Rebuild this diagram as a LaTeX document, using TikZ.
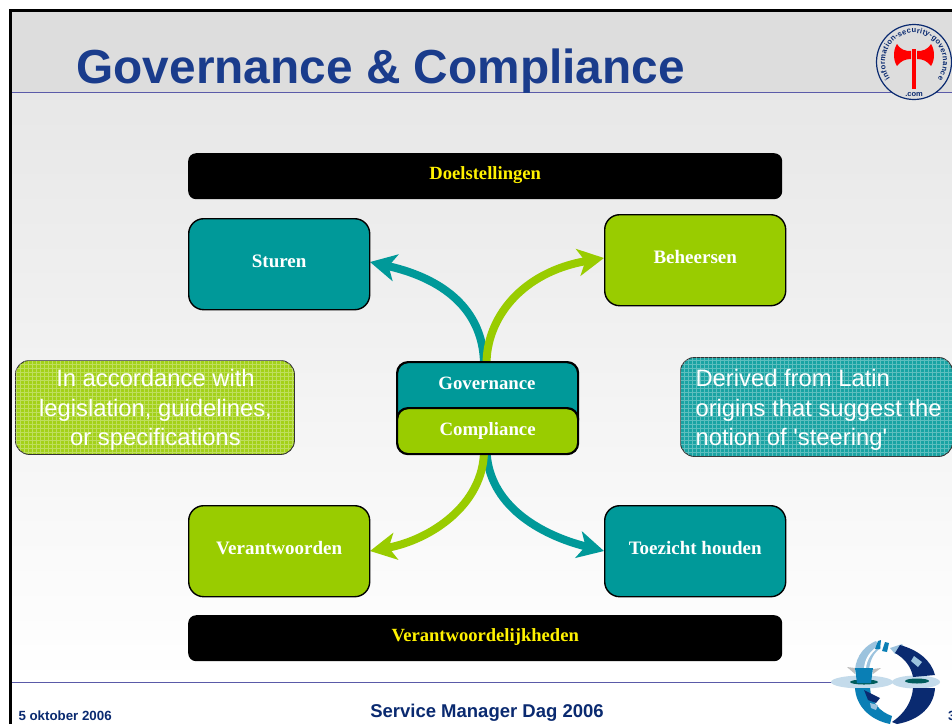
\documentclass[tikz,border=0pt]{standalone}
\usepackage{fontspec}
\setmainfont{Liberation Serif}
\newfontfamily\arialfont{Liberation Sans}
\usetikzlibrary{arrows.meta,decorations.text}
\definecolor{tealbox}{HTML}{009999}
\definecolor{limebox}{HTML}{99CC00}
\definecolor{headgrey}{HTML}{DDDDDD}
\definecolor{rulepurple}{HTML}{5A5AA8}
\definecolor{titleblue}{HTML}{1A3C8C}
\definecolor{logonavy}{HTML}{0A2A70}
\definecolor{logoblue}{HTML}{0A7FB5}
\definecolor{logolight}{HTML}{9CC3DE}
\tikzset{
  roundbox/.style={draw=black,line width=1.4pt,rounded corners=15pt,minimum width=181pt,minimum height=91pt,
    text=white,font=\fontsize{19}{20}\selectfont\bfseries,text height=14pt,text depth=7pt,anchor=north west},
  blackbar/.style={fill=black,rounded corners=8pt,minimum width=594pt,minimum height=46pt,
    text=yellow,font=\fontsize{18.6}{20}\selectfont\bfseries,text height=14pt,text depth=7pt,anchor=north west},
  centerbox/.style={draw=black,line width=2.2pt,rounded corners=11pt,minimum width=181pt,
    text=white,font=\fontsize{18.8}{20}\selectfont\bfseries,anchor=north west},
  notebox/.style={draw=black!80,line width=0.9pt,rounded corners=14pt,anchor=north west,inner sep=0pt},
  notetext/.style={text=white,font=\arialfont\fontsize{23.8}{29.5}\selectfont},
  notegrid/.style={white,opacity=0.3,line width=1pt,step=4pt},
  flow/.style={line width=8pt,-{Stealth[length=26pt,width=27pt,inset=7pt]}},
  footer/.style={text=logonavy},
}
\begin{document}
\begin{tikzpicture}[x=1pt,y=-1pt]
\useasboundingbox (0,0) rectangle (952,724);
\fill[white] (0,0) rectangle (952,724);
% background
\fill[headgrey] (10,10) rectangle (952,92);
\shade[top color=headgrey!70!white,bottom color=white] (10,92) rectangle (952,682);
\fill[white] (10,682) rectangle (952,724);
\draw[rulepurple,line width=1pt] (10,92) -- (952,92);
\draw[rulepurple,line width=1pt] (10,682) -- (840,682);
\draw[black,line width=3pt] (10,724) -- (10,10) -- (952,10);
% title
\node[font=\arialfont\bfseries\fontsize{47.8}{50}\selectfont,text=titleblue,anchor=west] (title) at (73,71.5) {Governance \& Compliance};
% logo
\node[circle,draw=logonavy,fill=headgrey,line width=1.2pt,minimum size=75pt,inner sep=0pt] (axelogo) at (914,62) {};
\fill[red] (912,49) rectangle (916,89);
\fill[red] (897,44) .. controls (901,50) and (905,51) .. (911,51) -- (911,59) .. controls (905,59) and (901,61) .. (897,66) .. controls (893,60) and (893,50) .. (897,44) -- cycle;
\fill[red] (931,44) .. controls (927,50) and (923,51) .. (917,51) -- (917,59) .. controls (923,59) and (927,61) .. (931,66) .. controls (935,60) and (935,50) .. (931,44) -- cycle;
\path[decorate,decoration={text along path,text align={fit to path},
  text={|\arialfont\bfseries\fontsize{7.6}{8}\selectfont\color{logonavy}|information-security-governance}}]
  (890.2,78.6) arc[start angle=145,end angle=395,radius=29];
\node[font=\arialfont\bfseries\fontsize{7.5}{8}\selectfont,text=logonavy,inner sep=0pt] (dotcom) at (914,95) {.com};
% curves
\coordinate (govtop) at (484,365);
\coordinate (govtopb) at (486.5,365);
\coordinate (compbot) at (486.5,450);
\coordinate (compbotb) at (484,450);
\coordinate (sturenin) at (370,262);
\coordinate (beheerin) at (604,258);
\coordinate (toezichtin) at (604,551);
\coordinate (verantin) at (370,551);
\draw[flow,tealbox] (govtop) .. controls (484,315) and (450,280) .. (sturenin);
\draw[flow,limebox] (govtopb) .. controls (486,318) and (522,272) .. (beheerin);
\draw[flow,tealbox] (compbot) .. controls (488,505) and (540,535) .. (toezichtin);
\draw[flow,limebox] (compbotb) .. controls (484,505) and (430,540) .. (verantin);
% bars
\node[blackbar] (doel) at (188,153) {Doelstellingen};
\node[blackbar] (verant) at (188,615) {Verantwoordelijkheden};
% four boxes
\node[roundbox,fill=tealbox] (sturen) at (188,218) {Sturen};
\node[roundbox,fill=limebox] (beheersen) at (604,214) {Beheersen};
\node[roundbox,fill=limebox] (verantw) at (188,505) {Verantwoorden};
\node[roundbox,fill=tealbox] (toezicht) at (604,505) {Toezicht houden};
% center
\node[centerbox,fill=tealbox,minimum height=68pt] (gov) at (396,361) {};
\node[font=\fontsize{18.8}{20}\selectfont\bfseries,text=white] (govtext) at (487,383) {Governance};
\node[centerbox,fill=limebox,minimum height=46pt] (comp) at (396,407) {Compliance};
% notes
\node[notebox,fill=limebox!90!white,minimum width=279pt,minimum height=94pt] (noteleft) at (15,360) {};
\begin{scope}
  \clip[rounded corners=14pt] (15,360) rectangle (294,454);
  \draw[notegrid] (15,360) grid (294,454);
\end{scope}
\node[notetext,align=center] (textleft) at (155.5,410) {In accordance with\\legislation, guidelines,\\or specifications};
\node[notebox,fill=tealbox!90!white,minimum width=272pt,minimum height=99pt] (noteright) at (680,357) {};
\begin{scope}
  \clip[rounded corners=14pt] (680,357) rectangle (952,456);
  \draw[notegrid] (680,357) grid (952,456);
\end{scope}
\node[notetext,align=left,anchor=west] (textright) at (692,410) {Derived from Latin\\origins that suggest the\\notion of 'steering'};
% footer
\node[footer,font=\arialfont\bfseries\fontsize{13.3}{14}\selectfont,anchor=west] (datum) at (15,716) {5 oktober 2006};
\node[footer,font=\arialfont\bfseries\fontsize{18.5}{20}\selectfont] (dag) at (487,713) {Service Manager Dag 2006};
\node[footer,font=\arialfont\bfseries\fontsize{13.3}{14}\selectfont,anchor=west,inner sep=0pt] (nr) at (948,716) {3};
% lower logo
\fill[logolight!60!white] (862,682) ellipse (31 and 6.5);
\fill[logolight!60!white] (916,682) ellipse (24 and 6.5);
\fill[tealbox!60!black] (864,682) ellipse (14 and 2.5);
\fill[tealbox!60!black] (917,681) ellipse (12 and 2.5);
% upper left arc with cup
\fill[logolight] (855,670) .. controls (856,655) and (866,645) .. (876,641) -- (881,648) .. controls (874,652) and (870,660) .. (869,670) -- cycle;
\fill[white] (864,668) .. controls (865,658) and (870,651) .. (878,646) -- (879,647) .. controls (872,652) and (867,659) .. (866,668) -- cycle;
\fill[logoblue] (875,649) -- (878,641) -- (881,640) -- (880,649) -- cycle;
\fill[logoblue] (882,651) -- (885,642) -- (889,643) -- (887,652) -- cycle;
\fill[gray!50] (847,667) -- (855,668) -- (855,674) -- cycle;
\fill[gray!50] (881,668) -- (873,669) -- (873,674) -- cycle;
\fill[logoblue] (855,668) -- (873,668) -- (871,683) -- (857,683) -- cycle;
% upper right arc
\fill[logolight] (890,648) -- (902,644) -- (906,650) -- (895,654) -- cycle;
\fill[logonavy] (900,645) .. controls (918,650) and (931,660) .. (935,675) -- (913,677) .. controls (911,666) and (904,658) .. (895,653) -- cycle;
\fill[logolight] (914,656) -- (922,662) -- (918,667) -- (911,661) -- cycle;
% lower arcs
\fill[logoblue] (855,688) -- (870,688) .. controls (871,702) and (880,712) .. (892,716) -- (890,724) .. controls (870,720) and (856,706) .. (855,688) -- cycle;
\fill[logonavy] (864,690) -- (880,698) -- (876,703) -- (868,700) -- cycle;
\fill[logolight] (870,703) -- (878,705) -- (876,710) -- (871,708) -- cycle;
\fill[logonavy] (913,688) -- (935,688) .. controls (934,706) and (920,720) .. (897,724) -- (892,722) .. controls (904,714) and (912,702) .. (913,688) -- cycle;
\end{tikzpicture}
\end{document}
